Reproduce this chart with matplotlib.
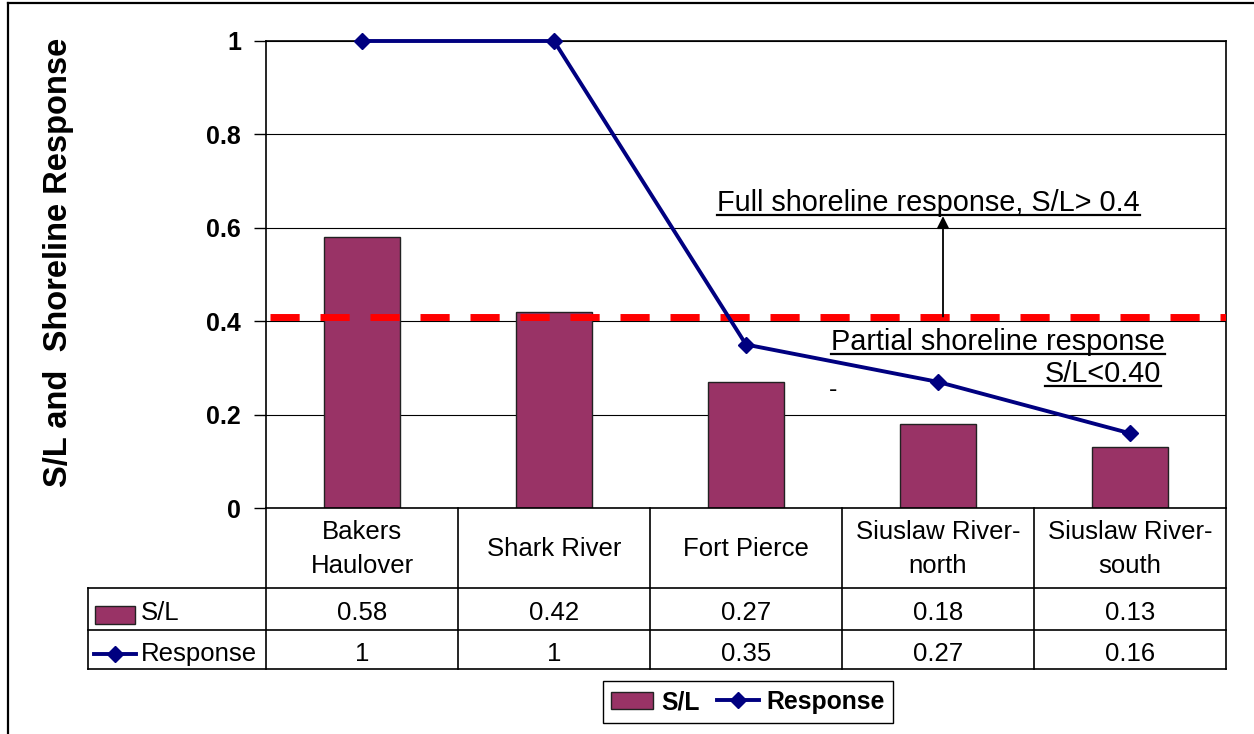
import matplotlib
matplotlib.use('Agg')
import matplotlib.pyplot as plt
import matplotlib.transforms as mtransforms
from matplotlib.lines import Line2D
from matplotlib.patches import Rectangle, Patch

# data
sites = ['Bakers\nHaulover', 'Shark River', 'Fort Pierce',
         'Siuslaw River-\nnorth', 'Siuslaw River-\nsouth']
sl = [0.58, 0.42, 0.27, 0.18, 0.13]
response = [1, 1, 0.35, 0.27, 0.16]
sl_labels = ['0.58', '0.42', '0.27', '0.18', '0.13']
response_labels = ['1', '1', '0.35', '0.27', '0.16']
threshold = 0.41
yticks = [0, 0.2, 0.4, 0.6, 0.8, 1]
ytick_labels = ['0', '0.2', '0.4', '0.6', '0.8', '1']

plt.rcParams['font.family'] = ['Liberation Sans', 'DejaVu Sans']

BAR = '#993366'
NAVY = '#000080'
W, H = 1254, 734

fig = plt.figure(figsize=(W / 100, H / 100), dpi=100)
ax = fig.add_axes([266 / W, 1 - 508 / H, 960 / W, 467 / H])


def xdat(px):
    # pixel column -> category units
    return (px - 266) / 192 - 0.5


def yfrac(py):
    # pixel row -> axes fraction
    return (508 - py) / 467


x = list(range(len(sites)))
ax.bar(x, sl, width=0.4, color=BAR, edgecolor='#222222', linewidth=1, zorder=2)
ax.plot(x, response, color=NAVY, lw=2.8, marker='D', ms=8, zorder=4,
        clip_on=False)
ax.axhline(threshold, xmin=0.004, color='red', lw=5, ls=(0, (4.2, 3.0)),
           zorder=3)

ax.set_xlim(-0.5, 4.5)
ax.set_ylim(0, 1)
ax.set_xticks([])
ax.set_yticks(yticks)
ax.set_yticklabels(ytick_labels, fontsize=18, fontweight='bold')
ax.tick_params(axis='y', direction='out', length=9, width=1, pad=9)
ax.yaxis.grid(True, color='black', lw=0.8)
ax.set_axisbelow(True)
for s in ax.spines.values():
    s.set_color('black')
    s.set_linewidth(1.2)

fig.text(58 / W, 1 - 262 / H, 'S/L and  Shoreline Response', rotation=90,
         fontsize=23.5, fontweight='bold', ha='center', va='center')

# annotations
ax.annotate('', xy=(xdat(943), 0.625), xytext=(xdat(943), threshold),
            arrowprops=dict(arrowstyle='-|>', color='black', lw=1.3,
                            mutation_scale=18, shrinkA=0, shrinkB=0))
t1 = ax.text(xdat(717), yfrac(211), 'Full shoreline response, S/L> 0.4',
             fontsize=20.8, ha='left', va='baseline')
t2 = ax.text(xdat(1165), yfrac(350), 'Partial shoreline response',
             fontsize=20.8, ha='right', va='baseline')
t3 = ax.text(xdat(1161), yfrac(382), 'S/L<0.40',
             fontsize=20.8, ha='right', va='baseline')
ax.text(xdat(833), yfrac(390), '-', fontsize=18, ha='center', va='center')

# data table under the plot
trans = mtransforms.blended_transform_factory(ax.transData, ax.transAxes)
lk = dict(transform=trans, color='black', lw=1.2, clip_on=False)
for py in [588, 630, 669]:
    ax.plot([xdat(88), 4.5], [yfrac(py)] * 2, **lk)
ax.plot([xdat(88)] * 2, [yfrac(588), yfrac(669)], **lk)
for i in range(len(sites) + 1):
    ax.plot([i - 0.5] * 2, [0, yfrac(669)], **lk)

for i in x:
    ax.text(i, yfrac(549), sites[i], transform=trans, ha='center', va='center',
            fontsize=18.5, linespacing=1.55)
    ax.text(i, yfrac(613), sl_labels[i], transform=trans, ha='center',
            va='center', fontsize=18.5)
    ax.text(i, yfrac(654), response_labels[i], transform=trans, ha='center',
            va='center', fontsize=18.5)

ax.add_patch(Rectangle((xdat(95), yfrac(624)), xdat(135) - xdat(95),
                       yfrac(606) - yfrac(624), transform=trans, fc=BAR,
                       ec='#222222', lw=1, clip_on=False))
ax.text(xdat(141), yfrac(613), 'S/L', transform=trans, ha='left', va='center',
        fontsize=18.5)
ax.plot([xdat(94), xdat(136)], [yfrac(654)] * 2, transform=trans,
        color=NAVY, lw=2.8, clip_on=False)
ax.plot([xdat(115)], [yfrac(654)], transform=trans, color=NAVY, marker='D',
        ms=8, clip_on=False)
ax.text(xdat(141), yfrac(654), 'Response', transform=trans, ha='left',
        va='center', fontsize=18.5)

# legend
handles = [Patch(facecolor=BAR, edgecolor='#222222'),
           Line2D([], [], color=NAVY, lw=2.8, marker='D', ms=8)]
leg = fig.legend(handles, ['S/L', 'Response'], loc='center',
                 bbox_to_anchor=(748 / W, 1 - 702 / H), ncol=2,
                 frameon=True, fancybox=False, edgecolor='black',
                 prop={'weight': 'bold', 'size': 17.8}, handlelength=1.7,
                 handletextpad=0.3, columnspacing=0.7, borderpad=0.35,
                 borderaxespad=0, framealpha=1)
leg.get_frame().set_linewidth(1)

# outer chart border
fig.add_artist(Line2D([8 / W, 1], [1 - 3 / H] * 2, transform=fig.transFigure,
                      color='black', lw=1.6))
fig.add_artist(Line2D([8 / W] * 2, [0, 1 - 3 / H], transform=fig.transFigure,
                      color='black', lw=1.6))

# underline annotation text
fig.canvas.draw()
renderer = fig.canvas.get_renderer()
for t in [t1, t2, t3]:
    bb = t.get_window_extent(renderer)
    ty = ax.transAxes.transform(
        ax.transLimits.transform(t.get_position()))[1]
    fig.add_artist(Line2D([bb.x0, bb.x1], [ty - 4, ty - 4],
                          transform=mtransforms.IdentityTransform(),
                          color='black', lw=1.6))

fig.savefig('out.png', dpi=100)
